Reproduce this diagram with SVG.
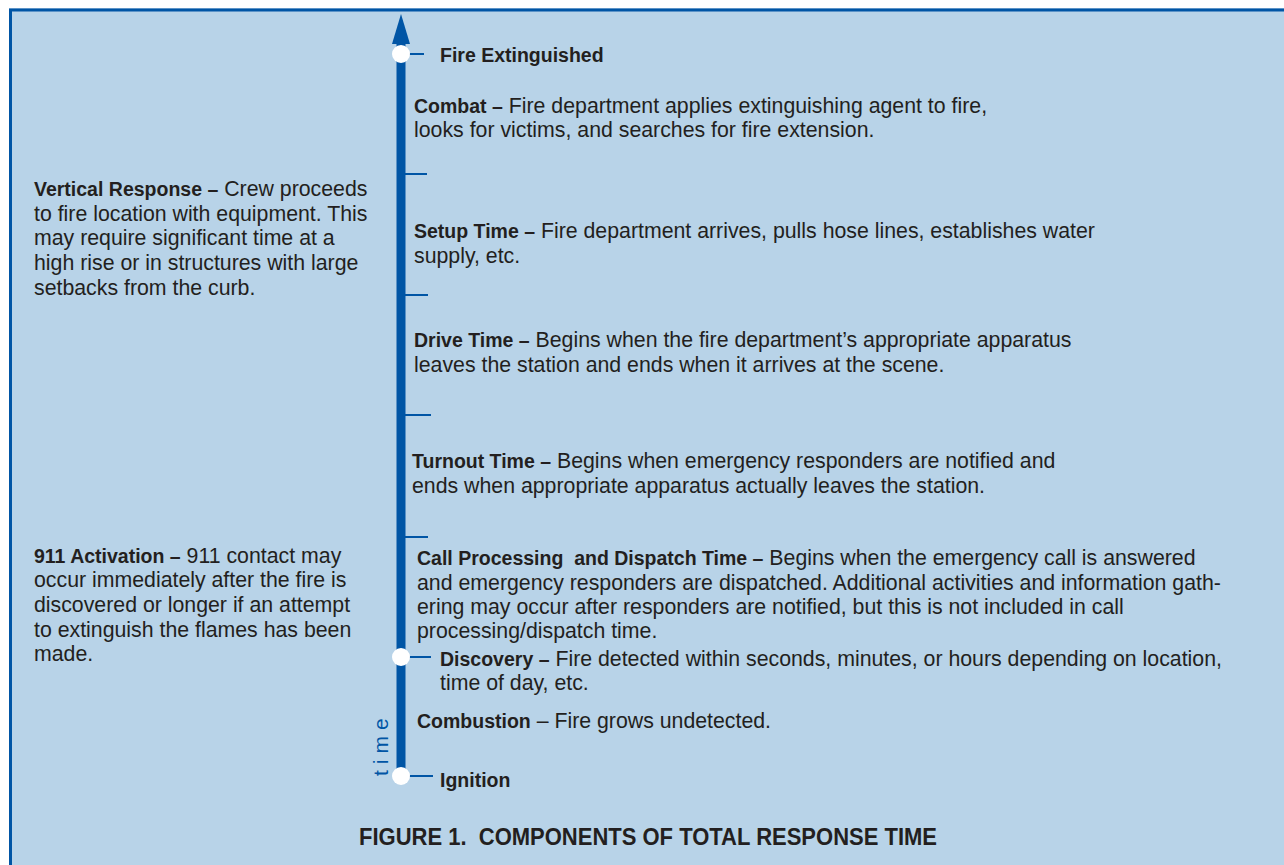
<svg xmlns="http://www.w3.org/2000/svg" width="1284" height="865" viewBox="0 0 1284 865">
  <style>
    text { font-family: "Liberation Sans", Arial, sans-serif; fill: #231f20; }
    .body { font-size: 21.3px; }
    .b { font-weight: bold; font-size: 19.5px; }
    .cap { font-size: 24px; font-weight: bold; white-space: pre; }
    .time { font-size: 21px; fill: #0055a5; letter-spacing: 6px; }
    .tick { stroke: #0055a5; stroke-width: 2; }
    .dot { fill: #ffffff; }
  </style>

  <!-- panel -->
  <rect x="0" y="0" width="1284" height="865" fill="#ffffff"/>
  <rect x="9" y="8" width="1275" height="857" fill="#b8d3e8"/>
  <line x1="9" y1="10" x2="1284" y2="10" stroke="#0055a5" stroke-width="3"/>
  <line x1="10.5" y1="9" x2="10.5" y2="865" stroke="#0055a5" stroke-width="3"/>

  <!-- time axis -->
  <g id="connectors">
    <line x1="401" y1="40" x2="401" y2="776" stroke="#0055a5" stroke-width="9"/>
    <polygon points="401,14 392,44 410,44" fill="#0055a5"/>
    <line class="tick" x1="408" y1="54" x2="424" y2="54"/>
    <line class="tick" x1="405" y1="174" x2="427" y2="174"/>
    <line class="tick" x1="405" y1="295" x2="428" y2="295"/>
    <line class="tick" x1="405" y1="415" x2="431" y2="415"/>
    <line class="tick" x1="405" y1="537" x2="428" y2="537"/>
    <line class="tick" x1="408" y1="657" x2="431" y2="657"/>
    <line class="tick" x1="408" y1="776" x2="433" y2="776"/>
    <text class="time" transform="translate(388,776) rotate(-90)">time</text>
  </g>

  <g id="fire-extinguished">
    <circle class="dot" cx="401" cy="54" r="9"/>
    <text class="body b" x="440" y="62">Fire Extinguished</text>
  </g>

  <g id="combat">
    <text class="body" x="414" y="113"><tspan class="b">Combat –</tspan> Fire department applies extinguishing agent to fire,</text>
    <text class="body" x="414" y="137">looks for victims, and searches for fire extension.</text>
  </g>

  <g id="vertical-response">
    <text class="body" x="34" y="196"><tspan class="b">Vertical Response –</tspan> Crew proceeds</text>
    <text class="body" x="34" y="221">to fire location with equipment. This</text>
    <text class="body" x="34" y="245">may require significant time at a</text>
    <text class="body" x="34" y="270">high rise or in structures with large</text>
    <text class="body" x="34" y="295">setbacks from the curb.</text>
  </g>

  <g id="setup-time">
    <text class="body" x="414" y="238"><tspan class="b">Setup Time –</tspan> Fire department arrives, pulls hose lines, establishes water</text>
    <text class="body" x="414" y="263">supply, etc.</text>
  </g>

  <g id="drive-time">
    <text class="body" x="414" y="347"><tspan class="b">Drive Time –</tspan> Begins when the fire department’s appropriate apparatus</text>
    <text class="body" x="414" y="372">leaves the station and ends when it arrives at the scene.</text>
  </g>

  <g id="turnout-time">
    <text class="body" x="412" y="468"><tspan class="b">Turnout Time –</tspan> Begins when emergency responders are notified and</text>
    <text class="body" x="412" y="493">ends when appropriate apparatus actually leaves the station.</text>
  </g>

  <g id="call-processing">
    <text class="body" x="417" y="565" xml:space="preserve"><tspan class="b">Call Processing  and Dispatch Time –</tspan> Begins when the emergency call is answered</text>
    <text class="body" x="417" y="590">and emergency responders are dispatched. Additional activities and information gath-</text>
    <text class="body" x="417" y="614">ering may occur after responders are notified, but this is not included in call</text>
    <text class="body" x="417" y="638">processing/dispatch time.</text>
  </g>

  <g id="activation-911">
    <text class="body" x="34" y="563"><tspan class="b">911 Activation –</tspan> 911 contact may</text>
    <text class="body" x="34" y="587">occur immediately after the fire is</text>
    <text class="body" x="34" y="612">discovered or longer if an attempt</text>
    <text class="body" x="34" y="637">to extinguish the flames has been</text>
    <text class="body" x="34" y="661">made.</text>
  </g>

  <g id="discovery">
    <circle class="dot" cx="401" cy="657" r="9"/>
    <text class="body" x="440" y="666"><tspan class="b">Discovery –</tspan> Fire detected within seconds, minutes, or hours depending on location,</text>
    <text class="body" x="440" y="690">time of day, etc.</text>
  </g>

  <g id="combustion">
    <text class="body" x="417" y="728"><tspan class="b">Combustion</tspan> – Fire grows undetected.</text>
  </g>

  <g id="ignition">
    <circle class="dot" cx="401" cy="776" r="9"/>
    <text class="body b" x="440" y="787">Ignition</text>
  </g>

  <text class="cap" x="359" y="845" textLength="578" lengthAdjust="spacingAndGlyphs">FIGURE 1.  COMPONENTS OF TOTAL RESPONSE TIME</text>
</svg>
